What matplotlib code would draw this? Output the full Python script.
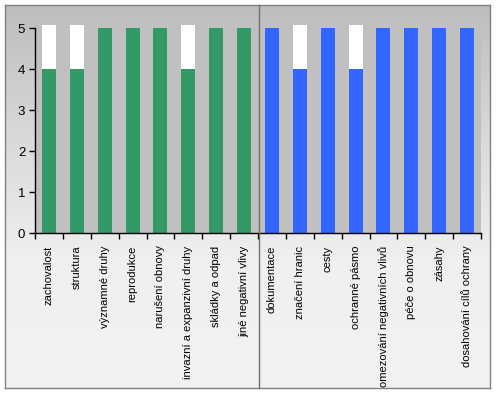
import numpy as np
import matplotlib.pyplot as plt
from matplotlib.patches import Rectangle
from matplotlib.lines import Line2D

# --- data ---
labels_stav = ["zachovalost", "struktura", "významné druhy", "reprodukce",
               "narušení obnovy", "invazní a expanzivní druhy",
               "skládky a odpad", "jiné negativní vlivy"]
labels_pece = ["dokumentace", "značení hranic", "cesty", "ochranné pásmo",
               "omezování negativních vlivů", "péče o obnovu", "zásahy",
               "dosahování cílů ochrany"]
stav_values = [4, 4, 5, 5, 5, 4, 5, 5]
pece_values = [5, 4, 5, 4, 5, 5, 5, 5]
# white remainder drawn above the score (reaches a bit past 5)
stav_rest = [1.08, 1.08, 0, 0, 0, 1.08, 0, 0]
pece_rest = [0, 1.08, 0, 1.08, 0, 0, 0, 0]

GREEN = "#339966"
BLUE = "#3366FF"
W, H = 496, 394

plt.rcParams['font.family'] = ['Liberation Sans', 'DejaVu Sans']

fig = plt.figure(figsize=(W / 100, H / 100), dpi=100)
fig.patch.set_facecolor("white")

# chart area: gradient box with grey frame
bg = fig.add_axes([5 / W, 1 - 388 / H, 485 / W, 383 / H], zorder=0)
grad = np.linspace(0, 1, 256).reshape(-1, 1)
bg.imshow(grad, aspect="auto", cmap=plt.matplotlib.colors.LinearSegmentedColormap.from_list(
    "g", ["#bdbdbd", "#d8d8d8", "#f0f0f0", "#f2f2f2"]), extent=[0, 1, 0, 1], origin="upper")
bg.set_xticks([])
bg.set_yticks([])
for s in bg.spines.values():
    s.set_color("#808080")
    s.set_linewidth(1)

# plot area
ax = fig.add_axes([35 / W, 1 - 233 / H, 446 / W, 208 / H], zorder=1)
ax.set_facecolor("#C0C0C0")

labels = labels_stav + labels_pece
values = stav_values + pece_values
rest = stav_rest + pece_rest
colors = [GREEN] * len(stav_values) + [BLUE] * len(pece_values)
x = np.arange(len(labels))

ax.bar(x, values, width=0.5, color=colors, linewidth=0)
ax.bar(x, rest, bottom=values, width=0.5, color="white", linewidth=0)

ax.set_xlim(-0.5, len(labels) - 0.5)
ax.set_ylim(0, 5.08)
ax.set_yticks(range(6))
ax.tick_params(axis="y", direction="out", length=4, width=1, labelsize=9.5, pad=3)

ax.set_xticks(x)
ax.set_xticklabels(labels, rotation=90, fontsize=8, va="top")
ax.tick_params(axis="x", which="major", length=0, pad=9)
ax.set_xticks(np.arange(-0.5, len(labels), 1), minor=True)
ax.tick_params(axis="x", which="minor", direction="out", length=4, width=1)

ax.spines["top"].set_visible(False)
ax.spines["right"].set_visible(False)
ax.spines["left"].set_bounds(0, 5)
for s in ("left", "bottom"):
    ax.spines[s].set_color("black")
    ax.spines[s].set_linewidth(1)

# separator between the two groups
sep = 258.5 / W
fig.add_artist(Line2D([sep, sep], [1 - 388 / H, 1 - 5 / H], color="#707070", lw=1, zorder=3))

fig.savefig("out.png", dpi=100)
